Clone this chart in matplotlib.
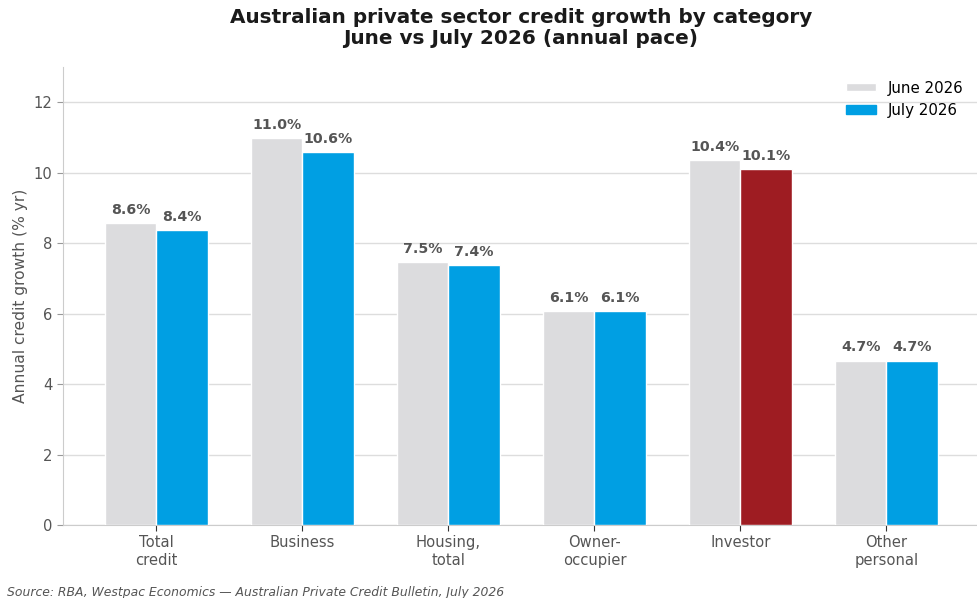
import matplotlib
matplotlib.use('Agg')
import matplotlib.pyplot as plt
import numpy as np

categories = ['Total\ncredit', 'Business', 'Housing,\ntotal', 'Owner-\noccupier', 'Investor', 'Other\npersonal']
june = [8.57, 10.98, 7.46, 6.07, 10.36, 4.66]
july = [8.37, 10.58, 7.38, 6.07, 10.10, 4.66]
series_names = ['June 2026', 'July 2026']
highlight = 'Investor'

grey = '#dcdcde'
blue = '#009fe3'
red = '#9e1c22'
text_grey = '#555555'

fig = plt.figure(figsize=(9.77, 5.98), dpi=100)
ax = fig.add_axes([63/977, (598-525)/598, 1 - 63/977, (525-67)/598])

x = np.arange(len(categories))
w = 0.35
july_colors = [red if c == highlight else blue for c in categories]
b1 = ax.bar(x - w/2, june, w, color=grey, edgecolor='white', linewidth=1, label=series_names[0], zorder=3)
b2 = ax.bar(x + w/2, july, w, color=july_colors, edgecolor='white', linewidth=1, label=series_names[1], zorder=3)

for bars, vals in ((b1, june), (b2, july)):
    for b, v in zip(bars, vals):
        ax.text(b.get_x() + b.get_width()/2, v + 0.18, '%.1f%%' % v, ha='center', va='bottom',
                fontsize=10.2, fontweight='bold', color=text_grey, zorder=4)

ax.set_xlim(-0.64, 5.62)
ax.set_ylim(0, 13)
ax.set_yticks([0, 2, 4, 6, 8, 10, 12])
ax.set_xticks(x)
ax.set_xticklabels(categories, fontsize=10.6, color=text_grey)
ax.tick_params(axis='y', labelsize=10.6, labelcolor=text_grey, color='#999999', length=4)
ax.tick_params(axis='x', color='#333333', length=4)
ax.set_ylabel('Annual credit growth (% yr)', fontsize=11.2, color=text_grey)
ax.yaxis.grid(True, color='#dddddd', linewidth=1, zorder=0)
ax.set_axisbelow(True)
for s in ('top', 'right'):
    ax.spines[s].set_visible(False)
for s in ('left', 'bottom'):
    ax.spines[s].set_color('#cccccc')

leg = ax.legend(loc='upper right', frameon=False, fontsize=10.8, handlelength=2, handleheight=0.5)
leg.legend_handles[1].set_color(blue)

fig.suptitle('Australian private sector credit growth by category\nJune vs July 2026 (annual pace)',
             fontsize=14.4, fontweight='bold', color='#1a1a1a', x=0.533, y=0.986, linespacing=1.12)
fig.text(0.007, 0.003, 'Source: RBA, Westpac Economics \u2014 Australian Private Credit Bulletin, July 2026',
         fontsize=8.9, style='italic', color=text_grey)

fig.savefig('out.png', dpi=100)
